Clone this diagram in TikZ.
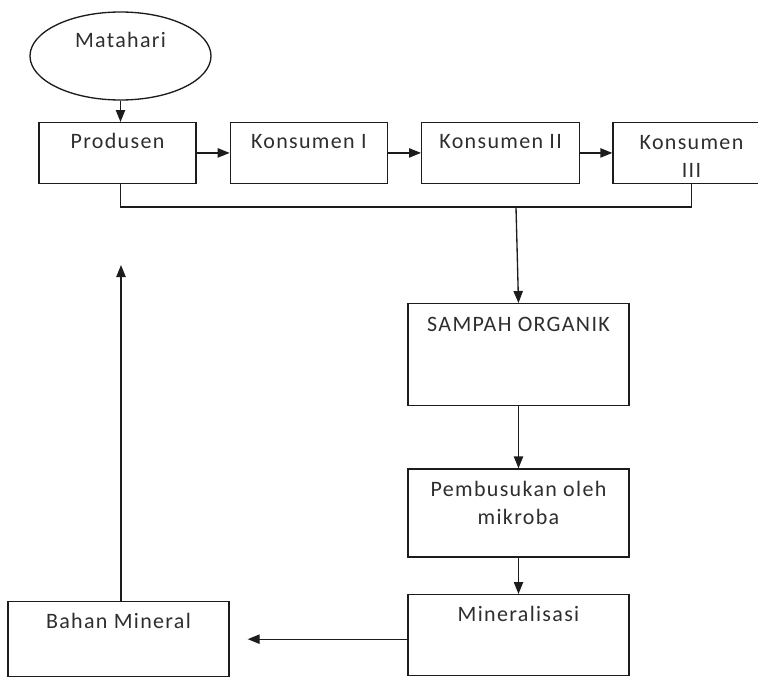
\documentclass[tikz,border=0pt]{standalone}
\usepackage{fontspec}
\usepackage{tikz}
\usetikzlibrary{arrows.meta,positioning,shapes.geometric}
\newfontfamily\chartfont{Carlito}[LetterSpace=6]
\definecolor{ink}{HTML}{1C1C1C}
\definecolor{inktext}{HTML}{2E2E2E}

\begin{document}
\begin{tikzpicture}[
  x=0.75pt, y=-0.75pt,
  box/.style={draw=ink, line width=1pt, rectangle, inner xsep=2pt, inner ysep=0pt, align=center, text=inktext,
    font={\chartfont\fontsize{16.5pt}{21pt}\selectfont}},
  sun/.style={draw=ink, line width=1pt, ellipse, inner sep=1pt, text=inktext,
    font={\chartfont\fontsize{16.5pt}{21pt}\selectfont}},
  toprow/.style={box, minimum width=117.75pt, text height=19.5pt, text depth=25.9pt},
  colbox/.style={box, minimum width=165.75pt},
  arrow/.style={-{Triangle[length=9pt,width=7pt]}, line width=1pt, draw=ink},
  line/.style={line width=1pt, draw=ink}
]
\useasboundingbox (0,0) rectangle (758,678);

% energy source and the food chain
\node[sun, minimum width=135.75pt, minimum height=66pt, text height=10pt, text depth=23.5pt] (sun) at (120.5,56) {Matahari};
\node[toprow, anchor=north] (prod) at (117.5,122) {Produsen};
\node[toprow, right=24.75pt of prod] (kons1) {Konsumen I};
\node[toprow, minimum width=118.5pt, right=24.75pt of kons1] (kons2) {Konsumen II};
\node[toprow, right=24pt of kons2, text height=41pt, text depth=4.4pt] (kons3) {Konsumen\\III};

% decomposition column
\node[colbox, anchor=north, text height=21pt, text depth=55.5pt] (sampah) at (518.5,303) {SAMPAH ORGANIK};
\node[colbox, below=46.5pt of sampah, text height=41.5pt, text depth=24.5pt] (busuk) {Pembusukan oleh\\mikroba};
\node[colbox, anchor=north, text height=20pt, text depth=40.5pt] (mineral) at (518.5,594) {Mineralisasi};
\node[colbox, anchor=north, text height=20.25pt, text depth=36pt] (bahan) at (118.5,601) {Bahan Mineral};

\coordinate (join) at (516,207);
\coordinate (ret) at (121,265);

\draw[arrow] (sun.south) -- (sun.south |- prod.north);
\draw[arrow] (prod) -- (kons1);
\draw[arrow] (kons1) -- (kons2);
\draw[arrow] (kons2) -- (kons3);
\draw[line] (prod.south -| sun) |- (join) -| (kons3.south);
\draw[arrow] (join) -- (sampah.north);
\draw[arrow] (sampah) -- (busuk);
\draw[arrow] (busuk) -- (mineral);
\draw[arrow, shorten >=13.5pt] (mineral.west |- bahan.east) -- (bahan.east);
\draw[arrow] (ret |- bahan.north) -- (ret);
\end{tikzpicture}
\end{document}
